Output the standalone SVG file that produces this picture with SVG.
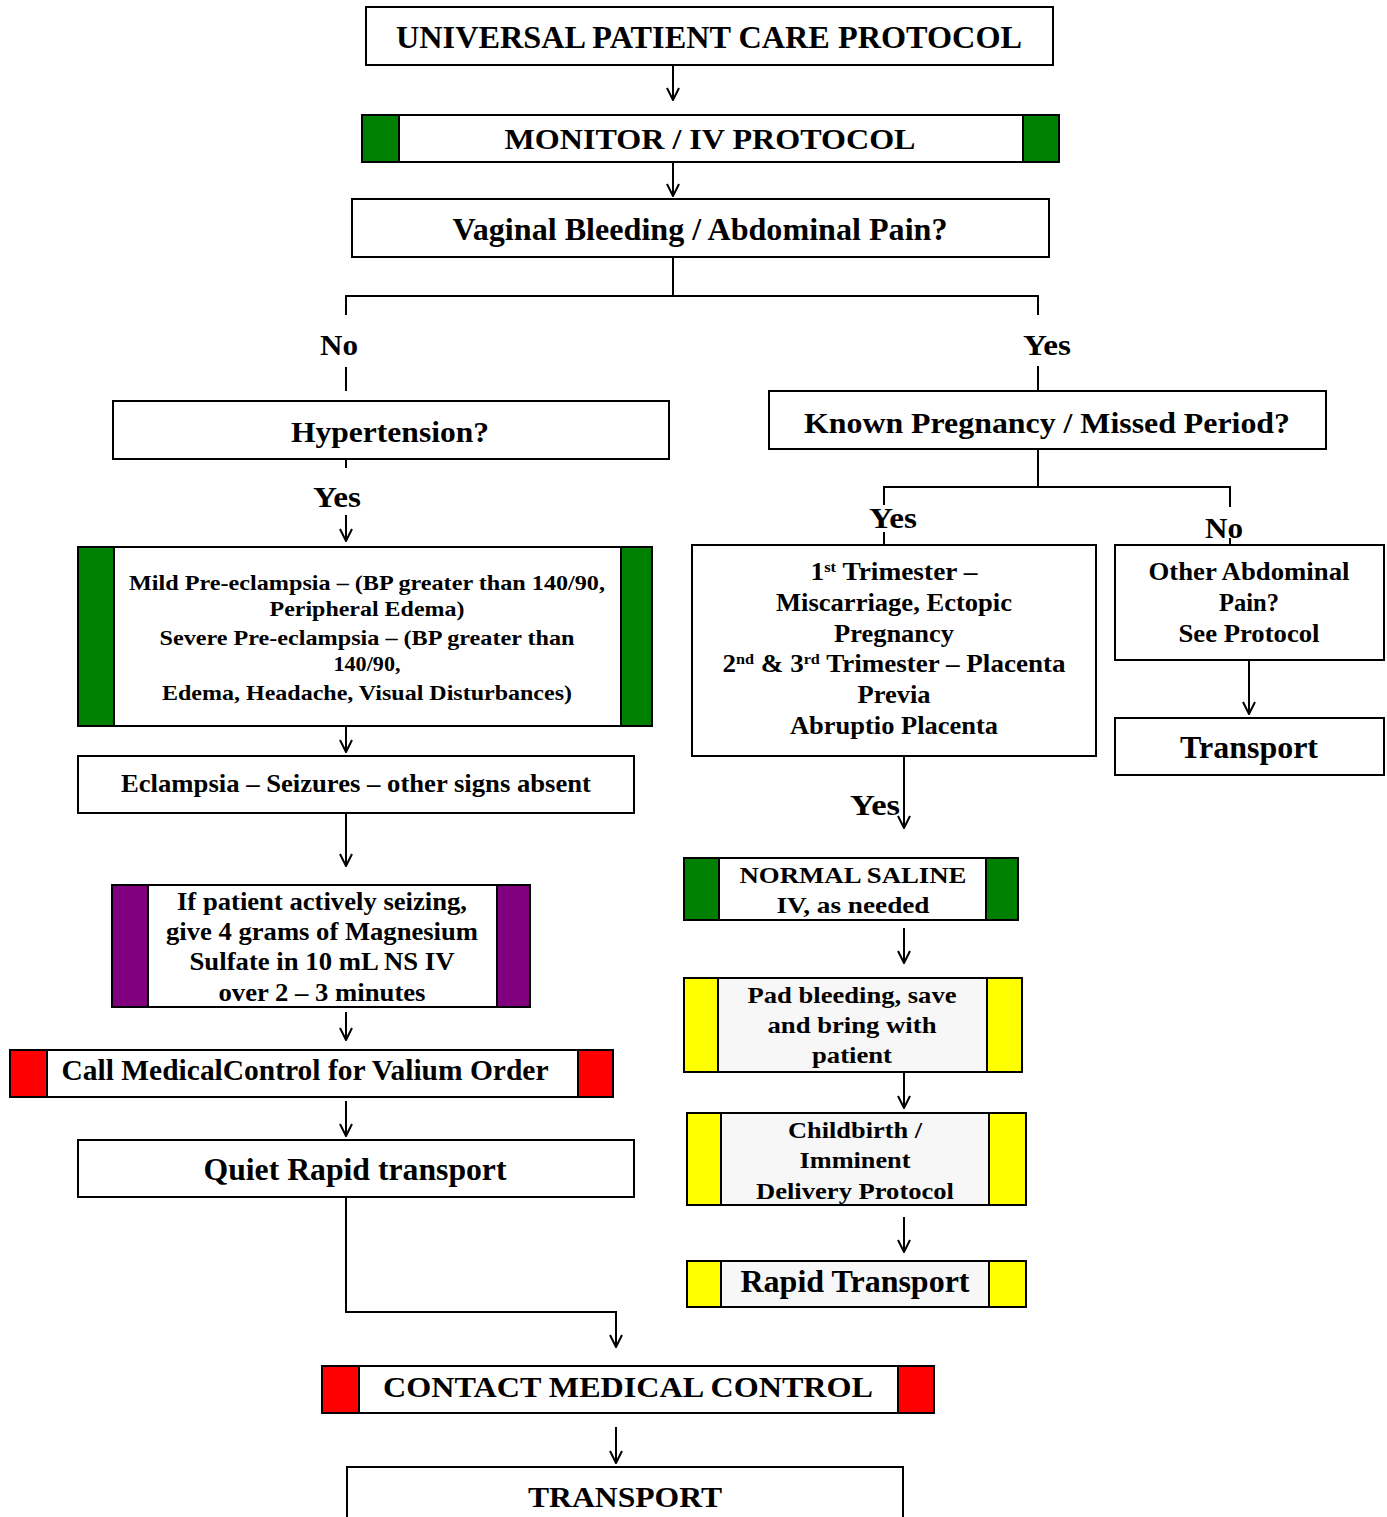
<svg xmlns="http://www.w3.org/2000/svg" width="1387" height="1517" viewBox="0 0 1387 1517">
<style>
.box{fill:#fff;stroke:#000;stroke-width:2}
.gbox{fill:#f7f7f7;stroke:#000;stroke-width:2}
.g{fill:#008000;stroke:#000;stroke-width:2}
.r{fill:#ff0000;stroke:#000;stroke-width:2}
.y{fill:#ffff00;stroke:#000;stroke-width:2}
.p{fill:#800080;stroke:#000;stroke-width:2}
.c{fill:none;stroke:#000;stroke-width:2}
text{font-family:"Liberation Serif","Times New Roman",serif;font-weight:bold;fill:#000;text-anchor:middle}
.f32{font-size:32px}.f30{font-size:30px}.f25{font-size:25px}.f24{font-size:24px}.f22{font-size:22px}
</style>
<defs>
<marker id="ah" viewBox="-1 -8 15 16" refX="13" refY="0" markerWidth="15" markerHeight="16" markerUnits="userSpaceOnUse" orient="auto">
<path d="M1,-6 L13,0 L1,6" fill="none" stroke="#000" stroke-width="2"/>
</marker>
</defs>

<g id="connectors">
<line class="c" x1="673" y1="65" x2="673" y2="100" marker-end="url(#ah)"/>
<line class="c" x1="673" y1="162" x2="673" y2="196" marker-end="url(#ah)"/>
<polyline class="c" points="673,257 673,296"/>
<polyline class="c" points="346,315 346,296 1038,296 1038,315"/>
<text class="f30" x="339" y="355" textLength="38" lengthAdjust="spacingAndGlyphs">No</text>
<text class="f30" x="1047" y="355" textLength="48" lengthAdjust="spacingAndGlyphs">Yes</text>
<line class="c" x1="346" y1="367" x2="346" y2="391"/>
<line class="c" x1="1038" y1="366" x2="1038" y2="391"/>
<line class="c" x1="346" y1="459" x2="346" y2="468"/>
<text class="f30" x="337" y="507" textLength="48" lengthAdjust="spacingAndGlyphs">Yes</text>
<line class="c" x1="346" y1="515" x2="346" y2="541" marker-end="url(#ah)"/>
<polyline class="c" points="1038,449 1038,487"/>
<polyline class="c" points="884,505 884,487 1230,487 1230,507"/>
<text class="f30" x="893" y="528" textLength="48" lengthAdjust="spacingAndGlyphs">Yes</text>
<line class="c" x1="884" y1="532" x2="884" y2="545"/>
<text class="f30" x="1224" y="538" textLength="38" lengthAdjust="spacingAndGlyphs">No</text>
<line class="c" x1="1230" y1="538" x2="1230" y2="545"/>
<line class="c" x1="1249" y1="660" x2="1249" y2="714" marker-end="url(#ah)"/>
<line class="c" x1="904" y1="756" x2="904" y2="828" marker-end="url(#ah)"/>
<text class="f30" x="875" y="815" textLength="50" lengthAdjust="spacingAndGlyphs">Yes</text>
<line class="c" x1="904" y1="928" x2="904" y2="963" marker-end="url(#ah)"/>
<line class="c" x1="904" y1="1072" x2="904" y2="1108" marker-end="url(#ah)"/>
<line class="c" x1="904" y1="1217" x2="904" y2="1252" marker-end="url(#ah)"/>
<line class="c" x1="346" y1="726" x2="346" y2="752" marker-end="url(#ah)"/>
<line class="c" x1="346" y1="813" x2="346" y2="866" marker-end="url(#ah)"/>
<line class="c" x1="346" y1="1012" x2="346" y2="1040" marker-end="url(#ah)"/>
<line class="c" x1="346" y1="1101" x2="346" y2="1136" marker-end="url(#ah)"/>
<polyline class="c" points="346,1197 346,1312 616,1312 616,1347" marker-end="url(#ah)"/>
<line class="c" x1="616" y1="1427" x2="616" y2="1463" marker-end="url(#ah)"/>
</g>

<g id="n-universal">
<rect class="box" x="366" y="7" width="687" height="58"/>
<text class="f32" x="709" y="48" textLength="626" lengthAdjust="spacingAndGlyphs">UNIVERSAL PATIENT CARE PROTOCOL</text>
</g>

<g id="n-monitor">
<rect class="box" x="362" y="115" width="697" height="47"/>
<rect class="g" x="362" y="115" width="37" height="47"/>
<rect class="g" x="1023" y="115" width="36" height="47"/>
<text class="f30" x="710" y="149" textLength="411" lengthAdjust="spacingAndGlyphs">MONITOR / IV PROTOCOL</text>
</g>

<g id="n-vaginal">
<rect class="box" x="352" y="199" width="697" height="58"/>
<text class="f32" x="700" y="240" textLength="495" lengthAdjust="spacingAndGlyphs">Vaginal Bleeding / Abdominal Pain?</text>
</g>

<g id="n-hypertension">
<rect class="box" x="113" y="401" width="556" height="58"/>
<text class="f30" x="390" y="442" textLength="198" lengthAdjust="spacingAndGlyphs">Hypertension?</text>
</g>

<g id="n-known">
<rect class="box" x="769" y="391" width="557" height="58"/>
<text class="f30" x="1047" y="433" textLength="486" lengthAdjust="spacingAndGlyphs">Known Pregnancy / Missed Period?</text>
</g>

<g id="n-trimester">
<rect class="box" x="692" y="545" width="404" height="211"/>
<text class="f25" x="894" y="580" textLength="167" lengthAdjust="spacingAndGlyphs">1<tspan font-size="15" baseline-shift="super">st</tspan> Trimester –</text>
<text class="f25" x="894" y="611" textLength="236" lengthAdjust="spacingAndGlyphs">Miscarriage, Ectopic</text>
<text class="f25" x="894" y="642" textLength="120" lengthAdjust="spacingAndGlyphs">Pregnancy</text>
<text class="f25" x="894" y="672" textLength="343" lengthAdjust="spacingAndGlyphs">2<tspan font-size="15" baseline-shift="super">nd</tspan> &amp; 3<tspan font-size="15" baseline-shift="super">rd</tspan> Trimester – Placenta</text>
<text class="f25" x="894" y="703" textLength="73" lengthAdjust="spacingAndGlyphs">Previa</text>
<text class="f25" x="894" y="734" textLength="208" lengthAdjust="spacingAndGlyphs">Abruptio Placenta</text>
</g>

<g id="n-other">
<rect class="box" x="1115" y="545" width="269" height="115"/>
<text class="f25" x="1249" y="580" textLength="201" lengthAdjust="spacingAndGlyphs">Other Abdominal</text>
<text class="f25" x="1249" y="611" textLength="60" lengthAdjust="spacingAndGlyphs">Pain?</text>
<text class="f25" x="1249" y="642" textLength="141" lengthAdjust="spacingAndGlyphs">See Protocol</text>
</g>

<g id="n-transport-right">
<rect class="box" x="1115" y="718" width="269" height="57"/>
<text class="f32" x="1249" y="758" textLength="138" lengthAdjust="spacingAndGlyphs">Transport</text>
</g>

<g id="n-saline">
<rect class="box" x="684" y="858" width="334" height="62"/>
<rect class="g" x="684" y="858" width="35" height="62"/>
<rect class="g" x="986" y="858" width="32" height="62"/>
<text class="f24" x="853" y="883" textLength="227" lengthAdjust="spacingAndGlyphs">NORMAL SALINE</text>
<text class="f24" x="853" y="913" textLength="153" lengthAdjust="spacingAndGlyphs">IV, as needed</text>
</g>

<g id="n-pad">
<rect class="gbox" x="684" y="978" width="338" height="94"/>
<rect class="y" x="684" y="978" width="34" height="94"/>
<rect class="y" x="987" y="978" width="35" height="94"/>
<text class="f24" x="852" y="1003" textLength="209" lengthAdjust="spacingAndGlyphs">Pad bleeding, save</text>
<text class="f24" x="852" y="1033" textLength="169" lengthAdjust="spacingAndGlyphs">and bring with</text>
<text class="f24" x="852" y="1063" textLength="80" lengthAdjust="spacingAndGlyphs">patient</text>
</g>

<g id="n-childbirth">
<rect class="gbox" x="687" y="1113" width="339" height="92"/>
<rect class="y" x="687" y="1113" width="34" height="92"/>
<rect class="y" x="989" y="1113" width="37" height="92"/>
<text class="f24" x="855" y="1138" textLength="134" lengthAdjust="spacingAndGlyphs">Childbirth /</text>
<text class="f24" x="855" y="1168" textLength="111" lengthAdjust="spacingAndGlyphs">Imminent</text>
<text class="f24" x="855" y="1199" textLength="198" lengthAdjust="spacingAndGlyphs">Delivery Protocol</text>
</g>

<g id="n-rapid">
<rect class="gbox" x="687" y="1261" width="339" height="46"/>
<rect class="y" x="687" y="1261" width="34" height="46"/>
<rect class="y" x="989" y="1261" width="37" height="46"/>
<text class="f32" x="855" y="1292" textLength="229" lengthAdjust="spacingAndGlyphs">Rapid Transport</text>
</g>

<g id="n-preeclampsia">
<rect class="box" x="78" y="547" width="574" height="179"/>
<rect class="g" x="78" y="547" width="36" height="179"/>
<rect class="g" x="621" y="547" width="31" height="179"/>
<text class="f22" x="367" y="590" textLength="476" lengthAdjust="spacingAndGlyphs">Mild Pre-eclampsia – (BP greater than 140/90,</text>
<text class="f22" x="367" y="616" textLength="195" lengthAdjust="spacingAndGlyphs">Peripheral Edema)</text>
<text class="f22" x="367" y="645" textLength="415" lengthAdjust="spacingAndGlyphs">Severe Pre-eclampsia – (BP greater than</text>
<text class="f22" x="367" y="671" textLength="67" lengthAdjust="spacingAndGlyphs">140/90,</text>
<text class="f22" x="367" y="700" textLength="410" lengthAdjust="spacingAndGlyphs">Edema, Headache, Visual Disturbances)</text>
</g>

<g id="n-eclampsia">
<rect class="box" x="78" y="756" width="556" height="57"/>
<text class="f25" x="356" y="792" textLength="470" lengthAdjust="spacingAndGlyphs">Eclampsia – Seizures – other signs absent</text>
</g>

<g id="n-magnesium">
<rect class="box" x="112" y="885" width="418" height="122"/>
<rect class="p" x="112" y="885" width="36" height="122"/>
<rect class="p" x="497" y="885" width="33" height="122"/>
<text class="f25" x="322" y="910" textLength="290" lengthAdjust="spacingAndGlyphs">If patient actively seizing,</text>
<text class="f25" x="322" y="940" textLength="312" lengthAdjust="spacingAndGlyphs">give 4 grams of Magnesium</text>
<text class="f25" x="322" y="970" textLength="265" lengthAdjust="spacingAndGlyphs">Sulfate in 10 mL NS IV</text>
<text class="f25" x="322" y="1001" textLength="207" lengthAdjust="spacingAndGlyphs">over 2 – 3 minutes</text>
</g>

<g id="n-valium">
<rect class="box" x="10" y="1050" width="603" height="47"/>
<rect class="r" x="10" y="1050" width="37" height="47"/>
<rect class="r" x="578" y="1050" width="35" height="47"/>
<text class="f30" x="305" y="1080" textLength="487" lengthAdjust="spacingAndGlyphs">Call MedicalControl for Valium Order</text>
</g>

<g id="n-quiet">
<rect class="box" x="78" y="1140" width="556" height="57"/>
<text class="f32" x="355" y="1180" textLength="303" lengthAdjust="spacingAndGlyphs">Quiet Rapid transport</text>
</g>

<g id="n-contact">
<rect class="box" x="322" y="1366" width="612" height="47"/>
<rect class="r" x="322" y="1366" width="37" height="47"/>
<rect class="r" x="898" y="1366" width="36" height="47"/>
<text class="f30" x="628" y="1397" textLength="490" lengthAdjust="spacingAndGlyphs">CONTACT MEDICAL CONTROL</text>
</g>

<g id="n-transport">
<rect class="box" x="347" y="1467" width="556" height="70"/>
<text class="f30" x="625" y="1507" textLength="194" lengthAdjust="spacingAndGlyphs">TRANSPORT</text>
</g>
</svg>
